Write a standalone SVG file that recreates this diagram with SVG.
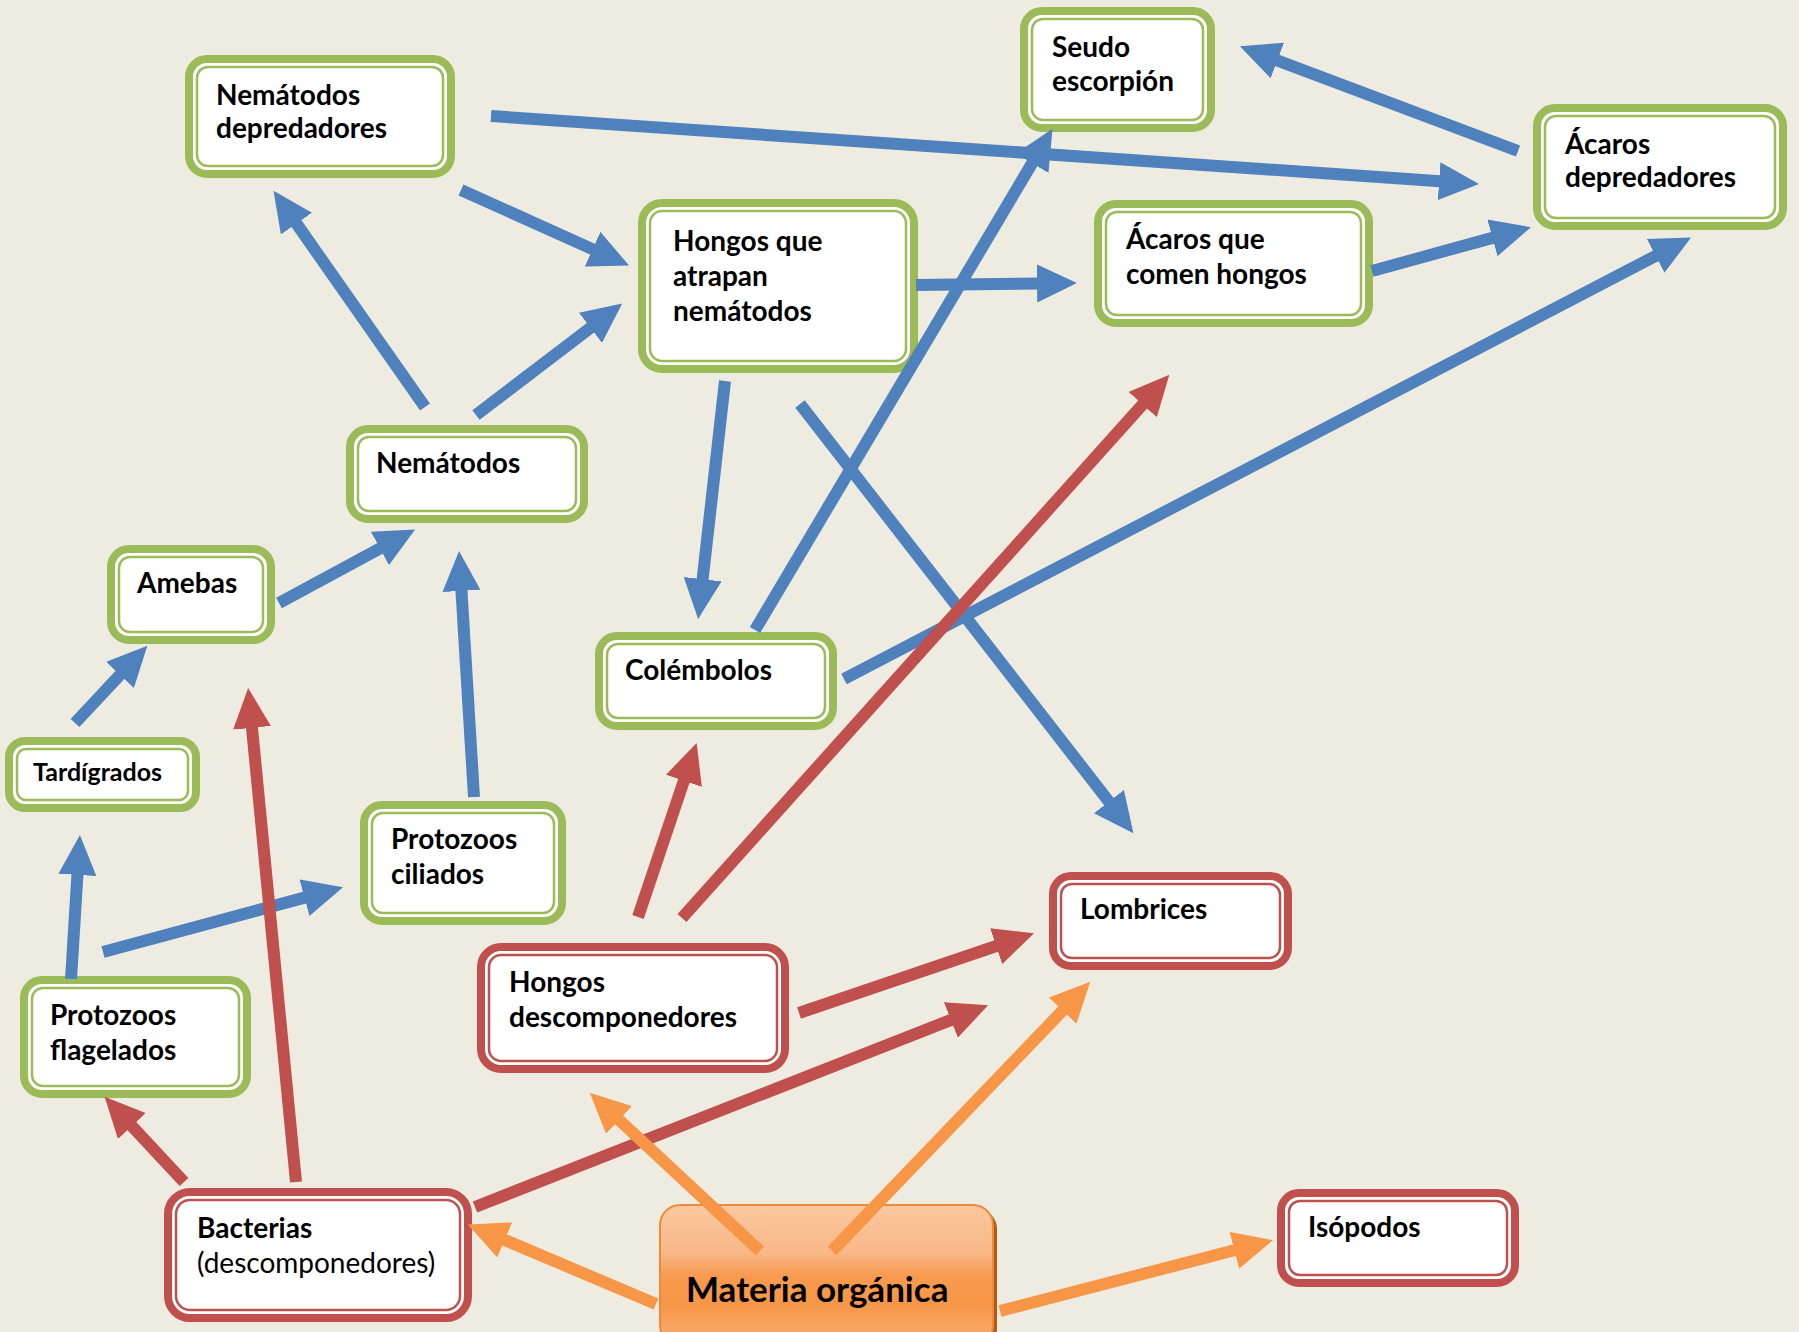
<svg xmlns="http://www.w3.org/2000/svg" width="1799" height="1332" viewBox="0 0 1799 1332">
<style>
.t{font-family:Lato,"Open Sans","Liberation Sans",sans-serif;font-weight:700;font-size:28px;fill:#000}
.n{font-weight:400}
.go{fill:#fff;stroke:#9BBB59;stroke-width:8}
.gi{fill:none;stroke:#9BBB59;stroke-width:2.5}
.ro{fill:#fff;stroke:#C0504D;stroke-width:8}
.ri{fill:none;stroke:#C0504D;stroke-width:2.5}
.b{stroke:#4F81BD;stroke-width:12;fill:none;marker-end:url(#mb)}
.r{stroke:#C0504D;stroke-width:12;fill:none;marker-end:url(#mr)}
.o{stroke:#F79646;stroke-width:12;fill:none;marker-end:url(#mo)}
</style>
<defs>
<marker id="mb" viewBox="0 0 40 38" refX="1" refY="19" markerWidth="40" markerHeight="38" markerUnits="userSpaceOnUse" orient="auto"><path d="M0,0 L40,19 L0,38 z" fill="#4F81BD"/></marker>
<marker id="mr" viewBox="0 0 40 38" refX="1" refY="19" markerWidth="40" markerHeight="38" markerUnits="userSpaceOnUse" orient="auto"><path d="M0,0 L40,19 L0,38 z" fill="#C0504D"/></marker>
<marker id="mo" viewBox="0 0 40 38" refX="1" refY="19" markerWidth="40" markerHeight="38" markerUnits="userSpaceOnUse" orient="auto"><path d="M0,0 L40,19 L0,38 z" fill="#F79646"/></marker>
<linearGradient id="og" x1="0" y1="0" x2="0" y2="1">
<stop offset="0" stop-color="#FAC8A0"/>
<stop offset="0.35" stop-color="#F8B786"/>
<stop offset="0.5" stop-color="#F79B50"/>
<stop offset="0.7" stop-color="#F79646"/>
<stop offset="1" stop-color="#F9AE74"/>
</linearGradient>
</defs>
<rect width="1799" height="1332" fill="#EEECE1"/>

<g id="n-nematodos-depredadores"><rect class="go" x="189" y="59" width="262" height="115" rx="18"/><rect class="gi" x="197" y="67" width="246" height="99" rx="11"/><text class="t" x="216" y="105">Nemátodos</text><text class="t" x="216" y="138">depredadores</text></g>
<g id="n-seudo-escorpion"><rect class="go" x="1024" y="11" width="187" height="117" rx="18"/><rect class="gi" x="1032" y="19" width="171" height="101" rx="11"/><text class="t" x="1052" y="57">Seudo</text><text class="t" x="1052" y="91">escorpión</text></g>
<g id="n-acaros-depredadores"><rect class="go" x="1537" y="108" width="246" height="118" rx="18"/><rect class="gi" x="1545" y="116" width="230" height="102" rx="11"/><text class="t" x="1565" y="154">Ácaros</text><text class="t" x="1565" y="187">depredadores</text></g>
<g id="n-hongos-atrapan"><rect class="go" x="642" y="203" width="272" height="166" rx="20"/><rect class="gi" x="650" y="211" width="256" height="150" rx="12"/><text class="t" x="673" y="251">Hongos que</text><text class="t" x="673" y="286">atrapan</text><text class="t" x="673" y="321">nemátodos</text></g>
<g id="n-acaros-hongos"><rect class="go" x="1098" y="204" width="271" height="119" rx="18"/><rect class="gi" x="1106" y="212" width="255" height="103" rx="11"/><text class="t" x="1126" y="249">Ácaros que</text><text class="t" x="1126" y="284">comen hongos</text></g>
<g id="n-nematodos"><rect class="go" x="350" y="429" width="234" height="90" rx="18"/><rect class="gi" x="358" y="437" width="218" height="74" rx="11"/><text class="t" x="376" y="473">Nemátodos</text></g>
<g id="n-amebas"><rect class="go" x="111" y="549" width="160" height="91" rx="18"/><rect class="gi" x="119" y="557" width="144" height="75" rx="11"/><text class="t" x="137" y="593">Amebas</text></g>
<g id="n-tardigrados"><rect class="go" x="9" y="741" width="187" height="67" rx="16"/><rect class="gi" x="17" y="749" width="171" height="51" rx="9"/><text class="t" x="33" y="781" style="font-size:25px">Tardígrados</text></g>
<g id="n-colembolos"><rect class="go" x="599" y="636" width="234" height="90" rx="18"/><rect class="gi" x="607" y="644" width="218" height="74" rx="11"/><text class="t" x="625" y="680">Colémbolos</text></g>
<g id="n-protozoos-ciliados"><rect class="go" x="364" y="805" width="198" height="116" rx="18"/><rect class="gi" x="372" y="813" width="182" height="100" rx="11"/><text class="t" x="391" y="849">Protozoos</text><text class="t" x="391" y="884">ciliados</text></g>
<g id="n-protozoos-flagelados"><rect class="go" x="24" y="980" width="223" height="114" rx="18"/><rect class="gi" x="32" y="988" width="207" height="98" rx="11"/><text class="t" x="50" y="1025">Protozoos</text><text class="t" x="50" y="1060">flagelados</text></g>
<g id="n-hongos-descomponedores"><rect class="ro" x="481" y="947" width="304" height="122" rx="20"/><rect class="ri" x="489" y="955" width="288" height="106" rx="12"/><text class="t" x="509" y="992">Hongos</text><text class="t" x="509" y="1027">descomponedores</text></g>
<g id="n-lombrices"><rect class="ro" x="1053" y="876" width="235" height="90" rx="18"/><rect class="ri" x="1061" y="884" width="219" height="74" rx="11"/><text class="t" x="1080" y="919">Lombrices</text></g>
<g id="n-isopodos"><rect class="ro" x="1281" y="1193" width="234" height="90" rx="18"/><rect class="ri" x="1289" y="1201" width="218" height="74" rx="11"/><text class="t" x="1308" y="1237">Isópodos</text></g>
<g id="n-bacterias"><rect class="ro" x="168" y="1192" width="300" height="126" rx="22"/><rect class="ri" x="176" y="1200" width="284" height="110" rx="14"/><text class="t" x="197" y="1238">Bacterias</text><text class="t n" x="197" y="1273">(descomponedores)</text></g>
<g id="n-materia-organica"><rect x="664" y="1209" width="333" height="140" rx="20" fill="#B35B14"/><rect x="660" y="1205" width="333" height="140" rx="20" fill="url(#og)" stroke="#EE8A3C" stroke-width="2"/><text class="t" x="686" y="1302" style="font-size:35px">Materia orgánica</text></g>

<g id="connectors">
<line class="b" x1="491" y1="116" x2="1440.1" y2="181.3"/>
<line class="b" x1="461" y1="190" x2="593.5" y2="249.6"/>
<line class="b" x1="425" y1="407" x2="295.9" y2="222.8"/>
<line class="b" x1="476" y1="415" x2="591.2" y2="327.2"/>
<line class="b" x1="916" y1="285" x2="1038" y2="283.5"/>
<line class="b" x1="1372" y1="271" x2="1493.4" y2="237.6"/>
<line class="b" x1="1518" y1="151" x2="1276.4" y2="60.1"/>
<line class="b" x1="755" y1="630" x2="1032.6" y2="162.4"/>
<line class="b" x1="725" y1="381" x2="702.5" y2="580.2"/>
<line class="b" x1="800" y1="404" x2="1109.5" y2="802.4"/>
<line class="b" x1="844" y1="679" x2="1656.5" y2="255.5"/>
<line class="b" x1="279" y1="603" x2="380.8" y2="548"/>
<line class="b" x1="75" y1="723" x2="120.7" y2="674.2"/>
<line class="b" x1="474" y1="797" x2="461.4" y2="589.9"/>
<line class="b" x1="71" y1="979" x2="77.5" y2="873.9"/>
<line class="b" x1="103" y1="952" x2="305.4" y2="897.4"/>
<line class="r" x1="184" y1="1182" x2="131.2" y2="1125.3"/>
<line class="r" x1="296" y1="1182" x2="251.9" y2="726.8"/>
<line class="r" x1="475" y1="1207" x2="951.8" y2="1019.6"/>
<line class="r" x1="799" y1="1013" x2="997.1" y2="945.8"/>
<line class="r" x1="638" y1="917" x2="684.2" y2="779.9"/>
<line class="r" x1="682" y1="918" x2="1143.3" y2="403.8"/>
<line class="o" x1="656" y1="1304" x2="503.8" y2="1239.6"/>
<line class="o" x1="760" y1="1251" x2="618.3" y2="1119.2"/>
<line class="o" x1="832" y1="1251" x2="1063.3" y2="1009.9"/>
<line class="o" x1="1000" y1="1311" x2="1235.3" y2="1250"/>
</g>
</svg>
